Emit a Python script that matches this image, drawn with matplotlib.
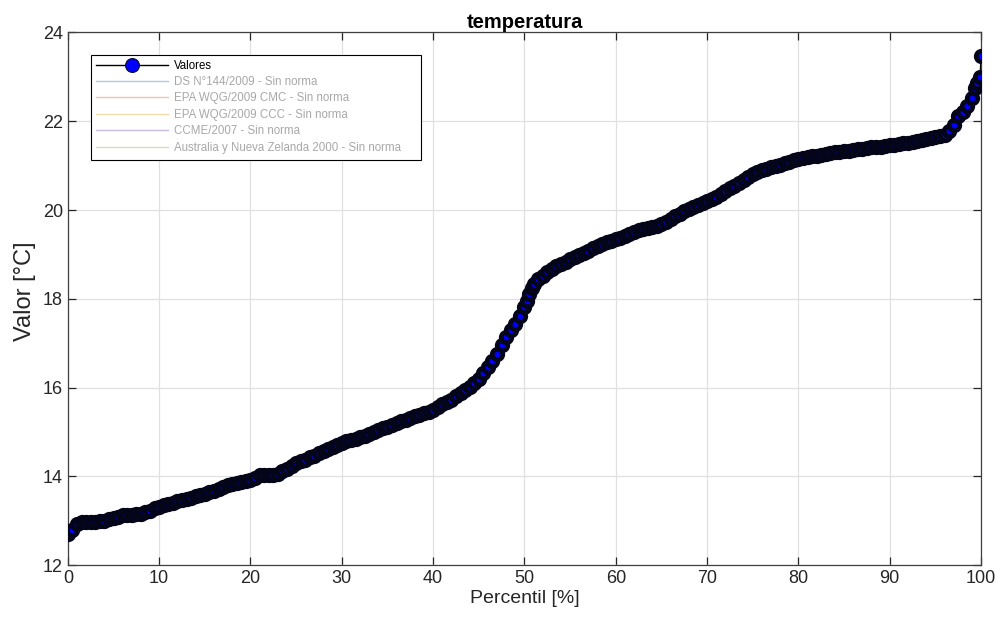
import matplotlib
matplotlib.use("Agg")
import matplotlib.pyplot as plt
from matplotlib.patches import Rectangle

plt.rcParams['font.family'] = ['Liberation Sans', 'DejaVu Sans']

percentil = [0, 0.5, 1, 1.5, 2, 2.5, 3, 3.5, 4, 4.5, 5, 5.5, 6, 6.5, 7, 7.5, 8, 8.5, 9, 9.5,
             10, 10.5, 11, 11.5, 12, 12.5, 13, 13.5, 14, 14.5, 15, 15.5, 16, 16.5, 17, 17.5, 18, 18.5, 19, 19.5,
             20, 20.5, 21, 21.5, 22, 22.5, 23, 23.5, 24, 24.5, 25, 25.5, 26, 26.5, 27, 27.5, 28, 28.5, 29, 29.5,
             30, 30.5, 31, 31.5, 32, 32.5, 33, 33.5, 34, 34.5, 35, 35.5, 36, 36.5, 37, 37.5, 38, 38.5, 39, 39.5,
             40, 40.5, 41, 41.5, 42, 42.5, 43, 43.5, 44, 44.5, 45, 45.5, 46, 46.5, 47, 47.5, 48, 48.5, 49, 49.5,
             50, 50.3, 50.5, 50.8, 51, 51.5, 52, 52.5, 53, 53.5, 54, 54.5, 55, 55.5, 56, 56.5, 57, 57.5, 58, 58.5,
             59, 59.5, 60, 60.5, 61, 61.5, 62, 62.5, 63, 63.5, 64, 64.5, 65, 65.5, 66, 66.5, 67, 67.5, 68, 68.5,
             69, 69.5, 70, 70.5, 71, 71.5, 72, 72.5, 73, 73.5, 74, 74.5, 75, 75.5, 76, 76.5, 77, 77.5, 78, 78.5,
             79, 79.5, 80, 80.5, 81, 81.5, 82, 82.5, 83, 83.5, 84, 84.5, 85, 85.5, 86, 86.5, 87, 87.5, 88, 88.5,
             89, 89.5, 90, 90.5, 91, 91.5, 92, 92.5, 93, 93.5, 94, 94.5, 95, 95.5, 96, 96.5, 97, 97.5, 98, 98.5,
             99, 99.3, 99.6, 99.9, 100]
valores = [12.70, 12.80, 12.92, 12.97, 12.97, 12.98, 12.98, 12.99, 13.00, 13.03, 13.06, 13.09, 13.12, 13.13, 13.14, 13.15, 13.16, 13.19, 13.23, 13.28,
           13.32, 13.35, 13.38, 13.41, 13.44, 13.47, 13.50, 13.52, 13.55, 13.58, 13.61, 13.64, 13.67, 13.71, 13.76, 13.80, 13.83, 13.85, 13.87, 13.89,
           13.92, 13.97, 14.02, 14.02, 14.02, 14.03, 14.06, 14.11, 14.17, 14.23, 14.29, 14.34, 14.38, 14.43, 14.47, 14.52, 14.57, 14.62, 14.66, 14.71,
           14.76, 14.79, 14.82, 14.85, 14.88, 14.92, 14.96, 15.00, 15.04, 15.08, 15.12, 15.16, 15.20, 15.24, 15.28, 15.32, 15.36, 15.39, 15.42, 15.46,
           15.50, 15.56, 15.63, 15.68, 15.73, 15.80, 15.88, 15.95, 16.02, 16.10, 16.20, 16.32, 16.46, 16.60, 16.76, 16.95, 17.14, 17.30, 17.44, 17.62,
           17.81, 17.95, 18.11, 18.25, 18.34, 18.44, 18.52, 18.60, 18.67, 18.73, 18.79, 18.84, 18.89, 18.94, 18.99, 19.04, 19.08, 19.14, 19.20, 19.24,
           19.27, 19.31, 19.35, 19.38, 19.42, 19.46, 19.50, 19.54, 19.57, 19.60, 19.62, 19.65, 19.68, 19.74, 19.80, 19.86, 19.91, 19.97, 20.02, 20.07,
           20.12, 20.16, 20.20, 20.24, 20.29, 20.36, 20.42, 20.49, 20.55, 20.62, 20.68, 20.75, 20.81, 20.86, 20.90, 20.93, 20.96, 20.99, 21.02, 21.05,
           21.09, 21.12, 21.15, 21.17, 21.19, 21.21, 21.22, 21.24, 21.26, 21.28, 21.30, 21.31, 21.33, 21.34, 21.36, 21.37, 21.38, 21.40, 21.41, 21.42,
           21.43, 21.45, 21.46, 21.47, 21.48, 21.50, 21.51, 21.53, 21.55, 21.57, 21.59, 21.62, 21.64, 21.67, 21.70, 21.77, 21.92, 22.11, 22.21, 22.34,
           22.53, 22.75, 22.86, 22.99, 23.47]

normas = ["DS N°144/2009 - Sin norma", "EPA WQG/2009 CMC - Sin norma", "EPA WQG/2009 CCC - Sin norma",
          "CCME/2007 - Sin norma", "Australia y Nueva Zelanda 2000 - Sin norma"]
colores_normas = ["#a9cde6", "#f1c4b0", "#f3dcaa", "#c9bdd9", "#d6e0b8"]

xticks = [0, 10, 20, 30, 40, 50, 60, 70, 80, 90, 100]
yticks = [12, 14, 16, 18, 20, 22, 24]

fig = plt.figure(figsize=(9.98, 6.19), dpi=100)
ax = fig.add_axes([0.068, 0.087, 0.915, 0.8605])

ax.plot(percentil, valores, color='black', lw=1.0, marker='o', markersize=7.6,
        markerfacecolor='#0000ff', markeredgecolor='#05051a', markeredgewidth=3.4,
        zorder=3)
ax.plot([], [], color='black', lw=1.0, marker='o', markersize=10,
        markerfacecolor='#0000ff', markeredgecolor='#101030', markeredgewidth=0.8,
        label='Valores')
for n, c in zip(normas, colores_normas):
    ax.plot([], [], color=c, lw=1.0, label=n)

ax.set_xlim(0, 100)
ax.set_ylim(12, 24)
ax.set_xticks(xticks)
ax.set_yticks(yticks)
ax.grid(True, color='#e0e0e0', lw=0.9)
ax.set_axisbelow(True)
ax.tick_params(direction='in', top=True, right=True, length=6, width=0.9,
               colors='#262626', labelsize=13, labelcolor='#262626')
for s in ax.spines.values():
    s.set_color('#404040')
    s.set_linewidth(0.9)

ax.set_xlabel('Percentil [%]', fontsize=14, color='#262626', labelpad=2)
ax.set_ylabel('Valor [°C]', fontsize=17, color='#262626')
ax.yaxis.set_label_coords(-0.035, 0.515)
ax.set_title('temperatura', fontsize=14.5, fontweight='bold', color='black', pad=3)

ax.add_patch(Rectangle((0.0252, 0.7613), 0.3614, 0.1973, transform=ax.transAxes,
                       facecolor='white', edgecolor='black', lw=0.8, zorder=4))
leg = ax.legend(loc='upper left', bbox_to_anchor=(0.0252, 0.9586), borderaxespad=0,
                fontsize=8.3, handlelength=6.2, labelspacing=0.38, frameon=False,
                borderpad=0.45, handletextpad=0.6)
leg.set_zorder(5)
for i, t in enumerate(leg.get_texts()):
    t.set_color('black' if i == 0 else '#a8a8a8')

fig.savefig('out.png', dpi=100)
